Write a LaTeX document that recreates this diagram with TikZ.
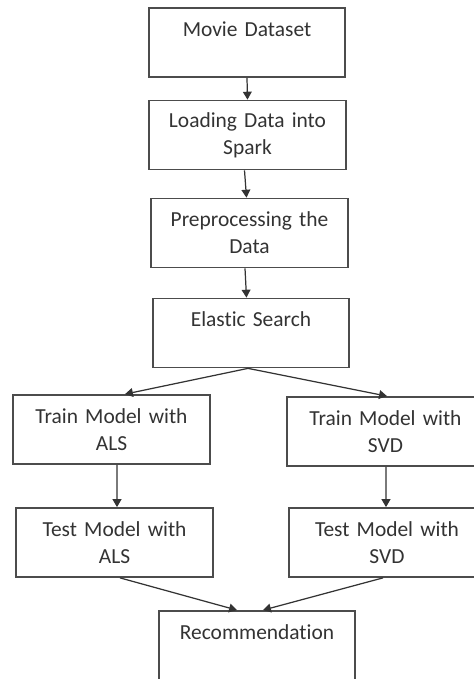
\documentclass[tikz,border=0pt]{standalone}
\usepackage{fontspec}
\setmainfont[Ligatures=NoCommon]{Carlito}
\usetikzlibrary{arrows.meta}
\tikzset{stage box/.style={draw=black!70, line width=1pt, fill=white, text=black!80,
		minimum width=3.9cm, minimum height=1.38cm, text width=3.7cm, align=center,
		font=\fontsize{12.2}{15.4}\selectfont}}
\tikzset{flow/.style={-{Triangle[length=4.5pt,width=5pt]}, draw=black!80, line width=0.7pt}}

\begin{document}
\begin{tikzpicture}[x=0.02cm, y=-0.02cm]
	\useasboundingbox[fill=white] (0,0) rectangle (473,679);
	\node[stage box] at (247,42.5)    (dataset)  {Movie Dataset\\ \mbox{}};
	\node[stage box] at (247.5,135)   (loading)  {Loading Data into\\ Spark};
	\node[stage box] at (249.5,233)   (preproc)  {Preprocessing the\\ Data};
	\node[stage box] at (251,333)     (elastic)  {Elastic Search\\ \mbox{}};
	\node[stage box] at (111.5,429.5) (trainals) {Train Model with\\ ALS};
	\node[stage box] at (385.5,431.5) (trainsvd) {Train Model with\\ SVD};
	\node[stage box] at (114.5,542.5) (testals)  {Test Model with\\ ALS};
	\node[stage box] at (387,542.5)   (testsvd)  {Test Model with\\ SVD};
	\node[stage box] at (257,645.5)   (recomm)   {Recommendation\\ \mbox{}};
	% main chain
	\path (dataset.south) edge[flow] (loading.north);
	\path ([xshift=-0.06cm]loading.south) edge[flow] ([xshift=-0.06cm]preproc.north);
	\path ([xshift=-0.09cm]preproc.south) edge[flow] ([xshift=-0.09cm]elastic.north);
	% split into the two models
	\path ([xshift=-0.06cm]elastic.south) edge[flow] ([xshift=0.27cm]trainals.north);
	\path ([xshift=-0.06cm]elastic.south) edge[flow] ([xshift=0.03cm]trainsvd.north);
	\path ([xshift=0.11cm]trainals.south) edge[flow] ([xshift=0.05cm]testals.north);
	\path ([xshift=0.01cm]trainsvd.south) edge[flow] ([xshift=-0.02cm]testsvd.north);
	% merge
	\path ([xshift=0.11cm]testals.south) edge[flow] ([xshift=-0.4cm]recomm.north);
	\path ([xshift=-0.08cm]testsvd.south) edge[flow] ([xshift=0.12cm]recomm.north);
\end{tikzpicture}
\end{document}
